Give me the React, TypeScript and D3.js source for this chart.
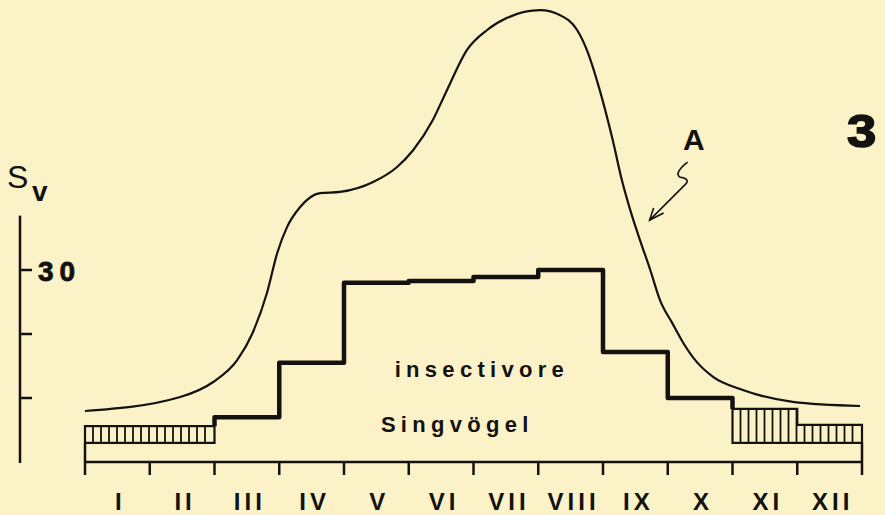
import * as d3 from "d3";

// month labels on the bottom axis
const months = ["I", "II", "III", "IV", "V", "VI", "VII", "VIII", "IX", "X", "XI", "XII"];

// y axis ticks (S_v)
const yTicks = [10, 20, 30];
const yTickLabels = ["", "", "30"];
const yAxisTop = 38.5;

// insectivore songbirds, stepped line for months III..X
const stepStart = 2;
const stepValues = [7.0, 15.5, 28.0, 28.3, 28.9, 30.0, 17.2, 10.0];

// hatched months (I, II, XI, XII)
const hatchMonths = [0, 1, 10, 11];
const hatchValues = [5.6, 5.6, 8.3, 5.8];
const hatchBase = 3.0;

// curve A (month position, value)
const curveMonth = [0, 1.47, 1.98, 2.35, 2.59, 2.81, 2.97, 3.12, 3.32, 3.63, 3.94, 4.45, 4.82, 5.07, 5.37, 5.59, 5.9, 6.21, 6.52, 7.03, 7.34, 7.6, 7.75, 7.95, 8.15, 8.29, 8.42, 8.57, 8.73, 8.88, 9.07, 9.24, 9.45, 9.7, 10.16, 10.93, 11.97];
const curveValue = [7.97, 10.16, 12.5, 15.9, 20.2, 26.4, 32.7, 36.7, 39.8, 42.0, 42.2, 43.75, 46.1, 48.75, 53.4, 58.1, 64.4, 67.5, 69.4, 70.6, 69.8, 67.5, 64.4, 58.1, 50.3, 44.1, 39.4, 34.7, 30.0, 25.3, 21.7, 18.6, 15.6, 13.3, 11.25, 9.4, 8.75];

const W = 885;
const H = 515;
const ink = "#141210";
const font = "'Liberation Sans', Arial, sans-serif";

export default function App() {
  const x = d3.scaleLinear().domain([0, 12]).range([85, 862]);
  const y = d3.scaleLinear().domain([0, 30]).range([462, 270]);

  const curveA = d3
    .line<number>()
    .x((_, i) => x(curveMonth[i]))
    .y((v) => y(v))
    .curve(d3.curveMonotoneX)(curveValue);

  // stepped line, starting on top of the hatched block and ending on the XI block
  const stepPts: [number, number][] = [[stepStart, hatchValues[1]]];
  stepValues.forEach((v, i) => stepPts.push([stepStart + i, v]));
  stepPts.push([stepStart + stepValues.length, stepValues[stepValues.length - 1]]);
  stepPts.push([stepStart + stepValues.length, hatchValues[2]]);
  const stepPath = d3
    .line<[number, number]>()
    .x((d) => x(d[0]))
    .y((d) => y(d[1]))
    .curve(d3.curveStepAfter)(stepPts);

  // group contiguous hatched months into blocks
  const blocks: { m: number; v: number }[][] = [];
  hatchMonths.forEach((m, i) => {
    const last = blocks[blocks.length - 1];
    if (last && last[last.length - 1].m === m - 1) last.push({ m, v: hatchValues[i] });
    else blocks.push([{ m, v: hatchValues[i] }]);
  });

  const blockOutline = (b: { m: number; v: number }[]) => {
    let p = `M${x(b[0].m)},${y(hatchBase)}`;
    b.forEach((d) => {
      p += ` V${y(d.v)} H${x(d.m + 1)}`;
    });
    p += ` V${y(hatchBase)} Z`;
    return p;
  };

  // vertical hatching, evenly spaced over each block
  const hatchLines: { x: number; y0: number; y1: number }[] = [];
  blocks.forEach((b) => {
    const x0 = x(b[0].m);
    const x1 = x(b[b.length - 1].m + 1);
    d3.range(x0 + 8, x1 - 3, 8).forEach((hx) => {
      const d = b.find((e) => hx >= x(e.m) && hx < x(e.m + 1)) ?? b[0];
      hatchLines.push({ x: hx, y0: y(hatchBase), y1: y(d.v) });
    });
  });

  const tip: [number, number] = [x(8.72), y(37.8)];

  return (
    <svg
      width={W}
      height={H}
      style={{ position: "absolute", left: 0, top: 0, background: "#fbf2c8" }}
    >
      <rect width={W} height={H} fill="#fbf2c8" />

      {/* y axis */}
      <line x1={20} x2={20} y1={y(yAxisTop)} y2={y(0) + 1} stroke={ink} strokeWidth={2.5} />
      {yTicks.map((t, i) => (
        <g key={t}>
          <line x1={20} x2={32} y1={y(t)} y2={y(t)} stroke={ink} strokeWidth={2.5} />
          <text
            x={38}
            y={y(t) + 11}
            fontFamily={font}
            fontWeight="bold"
            fontSize={28}
            letterSpacing={6}
            stroke={ink}
            strokeWidth={0.8}
            fill={ink}
          >
            {yTickLabels[i]}
          </text>
        </g>
      ))}
      <text x={7} y={188} fontFamily={font} fontSize={32} fill={ink}>S</text>
      <text x={32} y={201} fontFamily={font} fontWeight="bold" fontSize={28} fill={ink}>v</text>

      {/* curve A */}
      <path d={curveA ?? ""} fill="none" stroke={ink} strokeWidth={2.2} />

      {/* hatched blocks */}
      {hatchLines.map((h, i) => (
        <line key={i} x1={h.x} x2={h.x} y1={h.y0} y2={h.y1} stroke={ink} strokeWidth={1.8} />
      ))}
      {blocks.map((b, i) => (
        <path key={i} d={blockOutline(b)} fill="none" stroke={ink} strokeWidth={2.2} />
      ))}

      {/* stepped line */}
      <path d={stepPath ?? ""} fill="none" stroke={ink} strokeWidth={4.5} strokeLinejoin="round" />

      {/* bottom axis */}
      <line x1={x(0)} x2={x(12)} y1={y(0)} y2={y(0)} stroke={ink} strokeWidth={2.5} />
      {d3.range(0, 13).map((m) => (
        <line
          key={m}
          x1={x(m)}
          x2={x(m)}
          y1={m === 0 || m === 12 ? y(hatchBase) : y(0)}
          y2={y(0) + 13}
          stroke={ink}
          strokeWidth={2.5}
        />
      ))}
      {months.map((m, i) => (
        <text
          key={m}
          x={x(i + 0.5) + 3}
          y={510}
          textAnchor="middle"
          fontFamily={font}
          fontWeight="bold"
          fontSize={24}
          letterSpacing={4}
          fill={ink}
        >
          {m}
        </text>
      ))}

      {/* labels */}
      <text x={x(6.13)} y={377} textAnchor="middle" fontFamily={font} fontWeight="bold" fontSize={22} letterSpacing={5.3} fill={ink}>
        insectivore
      </text>
      <text x={x(5.75)} y={432} textAnchor="middle" fontFamily={font} fontWeight="bold" fontSize={22} letterSpacing={5.3} fill={ink}>
        Singvögel
      </text>

      {/* annotation A with squiggle arrow */}
      <text x={683} y={150} fontFamily={font} fontWeight="bold" fontSize={30} fill={ink}>A</text>
      <path
        d={`M${tip[0] + 38},${tip[1] - 58} C${tip[0] + 30},${tip[1] - 52} ${tip[0] + 26},${tip[1] - 46} ${tip[0] + 30},${tip[1] - 43} C${tip[0] + 36},${tip[1] - 42} ${tip[0] + 40},${tip[1] - 40} ${tip[0] + 36},${tip[1] - 36} L${tip[0]},${tip[1]}`}
        fill="none"
        stroke={ink}
        strokeWidth={1.6}
      />
      <path
        d={`M${tip[0] + 4},${tip[1] - 12} L${tip[0]},${tip[1]} L${tip[0] + 14},${tip[1] - 7}`}
        fill="none"
        stroke={ink}
        strokeWidth={1.6}
      />

      {/* figure number */}
      <text
        x={847}
        y={147}
        fontFamily={font}
        fontWeight={900}
        fontSize={47}
        stroke={ink}
        strokeWidth={1.6}
        transform="translate(847,147) scale(1.12,1) translate(-847,-147)"
        fill={ink}
      >
        3
      </text>
    </svg>
  );
}
